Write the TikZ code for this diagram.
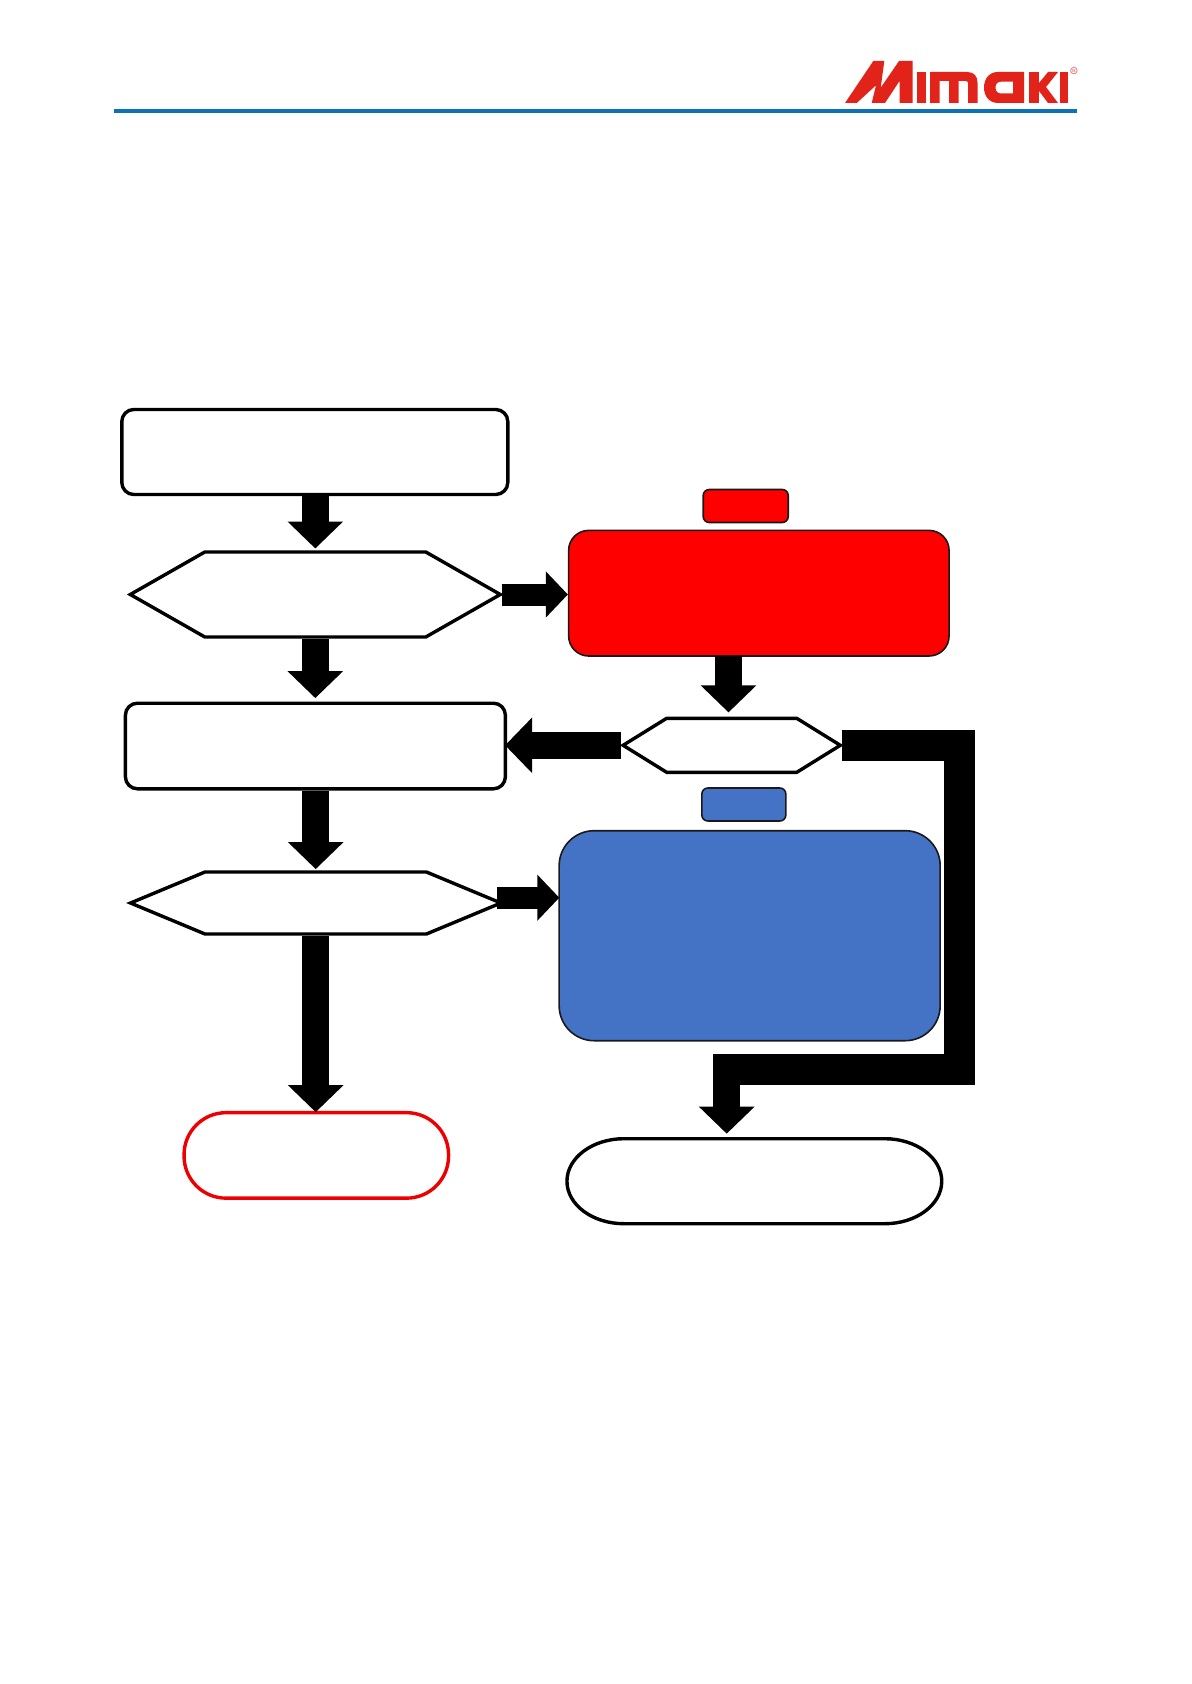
\documentclass[tikz,border=0pt]{standalone}
\usepackage{tikz}
\usetikzlibrary{arrows.meta, shapes.symbols}
\definecolor{logored}{HTML}{E2231A}
\definecolor{rulecol}{HTML}{0B72B5}
\definecolor{stopred}{HTML}{EE0000}
\definecolor{noteblue}{HTML}{4472C4}
\tikzset{
    every node/.style={draw, inner sep=0pt, line width=1.7pt}
}
\tikzset{
    stepbox/.style={rectangle, rounded corners=6pt, fill=white}
}
\tikzset{
    decision/.style={signal, signal to=east and west, fill=white}
}
\tikzset{
    notebox/.style={rectangle, line width=.8pt, draw=black!90}
}
\tikzset{
    every edge/.append style={draw=black, line width=13.5pt,
    	-{Triangle[length=13.5pt, width=27pt]}}
}
\tikzset{
    thinflow/.style={line width=11pt, -{Triangle[length=11pt, width=22.4pt]}}
}
\tikzset{
    pipe/.style={line width=15.5pt}
}

\begin{document}
\begin{tikzpicture}[x=.5pt, y=-.5pt]
  \path [use as bounding box] (0,0) rectangle (1191,1684);

  \draw [rulecol, line width=2pt] (114,111) -- (1077,111);
  \fill [logored] (845,103) -- (873.3,61) -- (884.3,61) -- (880.7,87.7) -- (899,61)
    -- (912.5,61) -- (912.5,103) -- (899.5,103) -- (899.5,81) -- (885,103)
    -- (871.7,103) -- (876,85.3) -- (856.7,103) -- cycle;
  \fill [logored] (917,72) rectangle (926,103);
  \fill [logored] (930,103) -- (930,72) -- (967,72)
    .. controls (974,72) and (977.5,76) .. (977.5,83) -- (977.5,103) -- (968,103) -- (968,83)
    .. controls (968,81.5) and (967,81) .. (965,81) -- (958.5,81) -- (958.5,103) -- (949,103)
    -- (949,81) -- (939.5,81) -- (939.5,103) -- cycle;
  \fill [logored, even odd rule] (1024,103) -- (1024,72) -- (998,72)
    .. controls (989,72) and (984,79) .. (984,87.5)
    .. controls (984,96) and (989,103) .. (998,103) -- cycle
    (1013,81.7) -- (1001,81.7) .. controls (997.5,81.7) and (995.5,84) .. (995.5,87.5)
    .. controls (995.5,91) and (997.5,93.5) .. (1001,93.5) -- (1013,93.5) -- cycle;
  \fill [logored] (1029,72) rectangle (1039,103);
  \fill [logored] (1039,83) -- (1048,72) -- (1058,72) -- (1046,87) -- (1058,103)
    -- (1048,103) -- (1039,91) -- cycle;
  \fill [logored] (1059.5,72) rectangle (1067.5,103);
  \node (regmark) [draw=none, text=logored, font=\tiny] at (1074,71) {\textregistered};

  \node (start) [stepbox, minimum width=193pt, minimum height=42.5pt] at (314.8,452) {};
  \node (checka) [decision, minimum width=185pt, minimum height=42.5pt,
  	signal pointer angle=59.4] at (315.3,594.5) {};
  \node (middle) [stepbox, minimum width=190pt, minimum height=42.8pt] at (315.4,746) {};
  \node (checkb) [decision, minimum width=185.2pt, minimum height=31pt,
  	signal pointer angle=45.2] at (315.7,903) {};
  \node (finish) [rectangle, draw=stopred, rounded corners=21pt, fill=white,
  	minimum width=132.25pt, minimum height=42.75pt] at (316.3,1155.4) {};

  \node (redtag) [notebox, fill=red, rounded corners=3pt, minimum width=42.5pt,
  	minimum height=16.5pt] at (745.7,506) {};
  \node (redbox) [notebox, fill=red, rounded corners=10pt, minimum width=190.2pt,
  	minimum height=62.8pt] at (758.85,593.2) {};
  \node (checkc) [decision, minimum width=108.6pt, minimum height=27pt,
  	signal pointer angle=63.6] at (731.7,745.3) {};
  \node (bluetag) [notebox, fill=noteblue, rounded corners=3pt, minimum width=42pt,
  	minimum height=16.5pt] at (743.85,804.5) {};
  \node (bluebox) [notebox, fill=noteblue, rounded corners=17.5pt, minimum width=190.5pt,
  	minimum height=105pt] at (749.65,935.7) {};
  \node (oval) [draw=none, outer sep=0pt, minimum width=187.4pt,
  	minimum height=42.5pt] at (754.35,1181.2) {};
  \draw [line width=1.7pt] ([xshift=28.5pt]oval.north west) -- ([xshift=-28.5pt]oval.north east)
    arc [start angle=90, end angle=-90, x radius=28.5pt, y radius=21.25pt]
    -- ([xshift=28.5pt]oval.south west)
    arc [start angle=270, end angle=90, x radius=28.5pt, y radius=21.25pt] -- cycle;

  \coordinate (redout) at (728.5,655.7);
  \coordinate (bluein) at (559.3,897.7);
  \coordinate (bendA) at (959.5,745.3);
  \coordinate (bendB) at (959.5,1069.5);
  \coordinate (bendC) at (713,1069.5);
  \coordinate (pipeout) at (726.7,1084);

  \draw (checka.north |- start.south) edge [shorten >=.9pt] (checka.north);
  \draw (checka.south) edge [shorten >=1.7pt] (checka.south |- middle.north);
  \draw (checkb.north |- middle.south) edge [shorten >=.6pt] (checkb.north);
  \draw (checkb.south) edge [shorten >=-.6pt] (checkb.south |- finish.north);
  \draw (checka.east) edge [thinflow, shorten <=-1pt] (checka.east -| redbox.west);
  \draw (redout) edge [shorten >=2.1pt] (redout |- checkc.north);
  \draw (checkc.west) edge [shorten >=-1pt, shorten <=-.5pt] (checkc.west -| middle.east);
  \draw (checkb.east |- bluein) edge [thinflow, shorten <=-4pt] (bluein);
  \draw [pipe, shorten <=-1pt] (checkc.east) -- (bendA) -- (bendB) -- (bendC);
  \draw (pipeout) edge [shorten >=2.5pt] (pipeout |- oval.north);
\end{tikzpicture}
\end{document}
